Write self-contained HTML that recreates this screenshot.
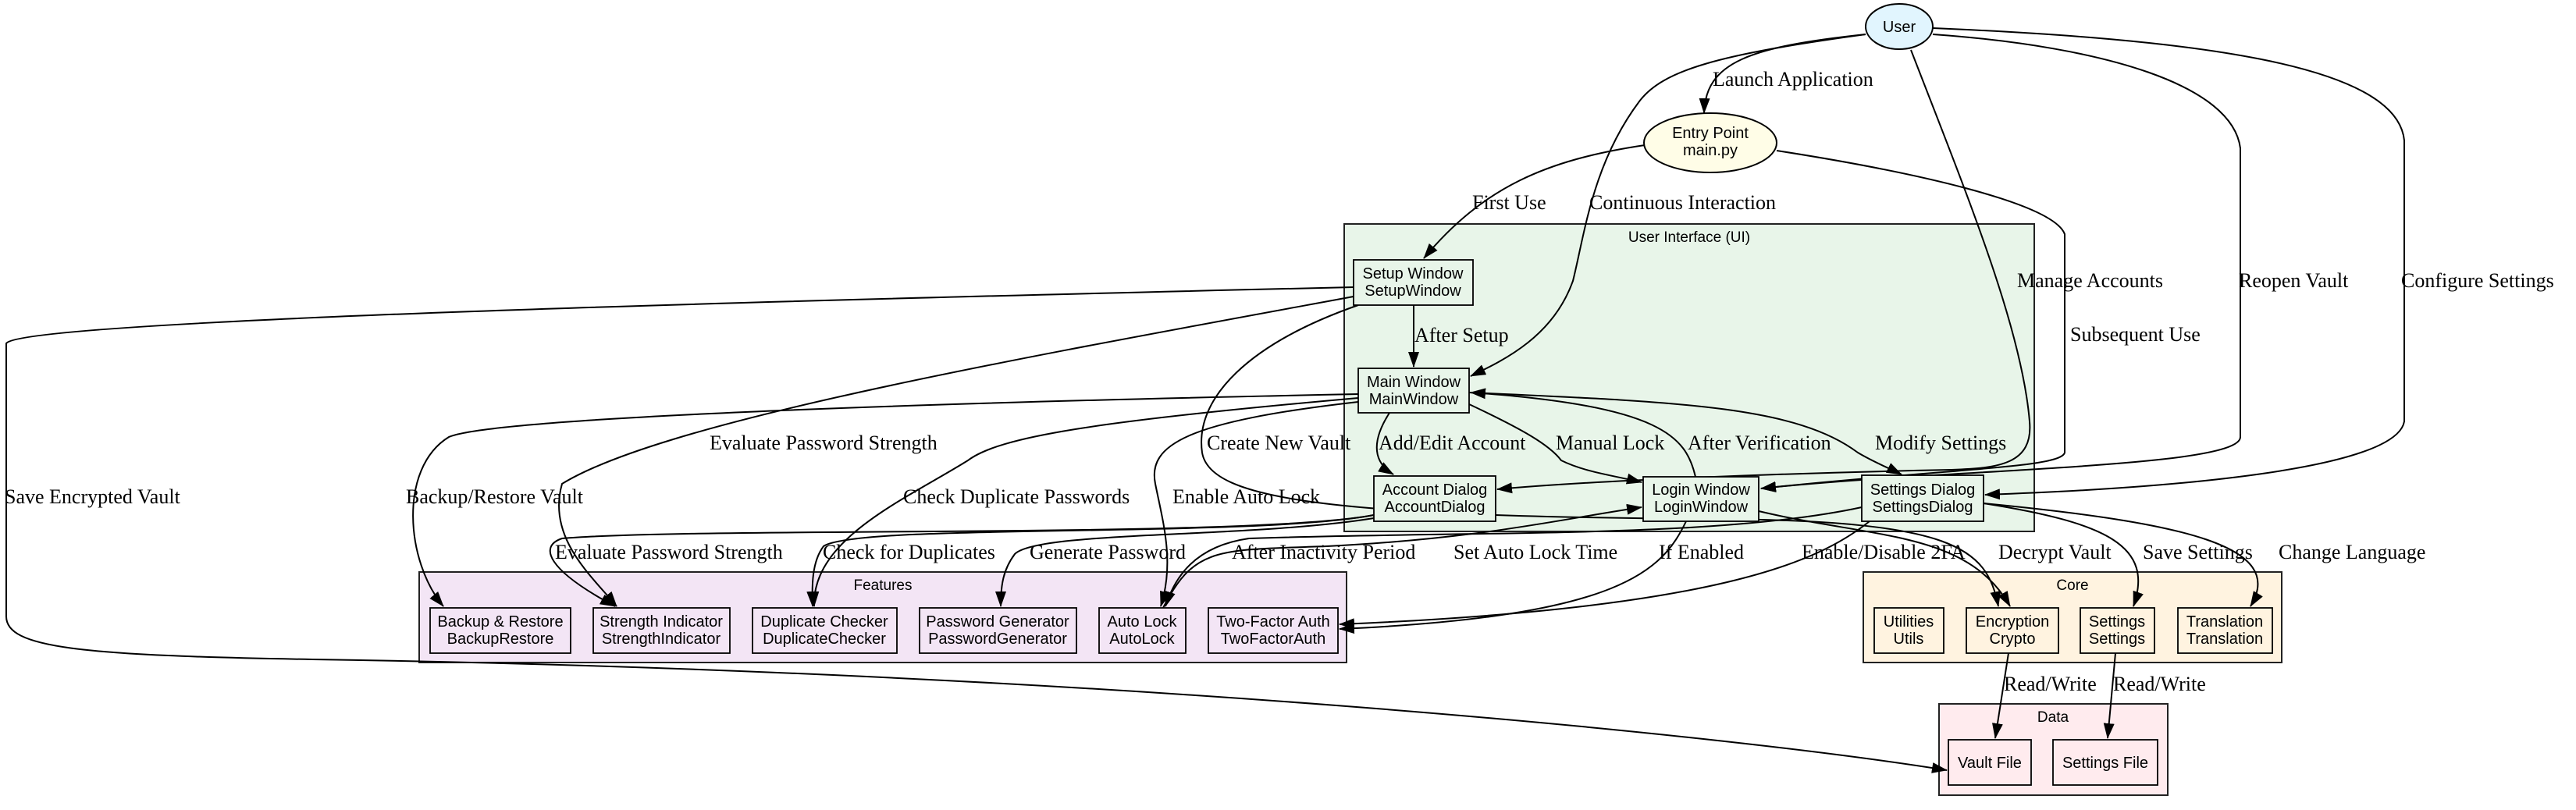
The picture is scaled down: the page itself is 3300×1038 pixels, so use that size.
<!DOCTYPE html>
<html><head><meta charset="utf-8"><style>
html,body{margin:0;padding:0;background:#fff;}
svg{display:block;}
.l{font-family:"Liberation Serif",serif;font-size:26px;fill:#000;}
.n{font-family:"Liberation Sans",sans-serif;font-size:20px;fill:#000;text-anchor:middle;}
.c{font-family:"Liberation Sans",sans-serif;font-size:19px;fill:#000;text-anchor:middle;}
.e{fill:none;stroke:#000;stroke-width:2;marker-end:url(#a);}
.b{stroke:#000;stroke-width:1.8;}
</style></head><body>
<svg width="3300" height="1038" viewBox="0 0 3300 1038" xmlns="http://www.w3.org/2000/svg">
<defs><marker id="a" markerWidth="20" markerHeight="14" refX="19" refY="7" orient="auto" markerUnits="userSpaceOnUse"><path d="M0,0 L20,7 L0,14 z" fill="#000"/></marker></defs>

<rect x="1722" y="287" width="884" height="394" fill="#e8f5e9" stroke="#222" stroke-width="2"/>
<text class="c" x="2164" y="310">User Interface (UI)</text>
<rect x="537" y="733" width="1188" height="116" fill="#f3e5f5" stroke="#222" stroke-width="2"/>
<text class="c" x="1131" y="756">Features</text>
<rect x="2387" y="733" width="536" height="116" fill="#fff3e0" stroke="#222" stroke-width="2"/>
<text class="c" x="2655" y="756">Core</text>
<rect x="2484" y="902" width="293" height="117" fill="#ffebee" stroke="#222" stroke-width="2"/>
<text class="c" x="2630" y="925">Data</text>

<path class="e" d="M2390,44 C2240,60 2185,80 2183,145"/>
<path class="e" d="M2390,44 C2200,70 2130,90 2100,130 C2040,210 2030,300 2015,360 C1990,430 1930,460 1884,482"/>
<path class="e" d="M2448,64 C2520,250 2590,420 2600,540 C2605,595 2560,600 2500,602 C2300,606 2050,615 1918,627"/>
<path class="e" d="M2476,44 C2700,60 2860,110 2870,190 L2870,560 C2870,600 2500,600 2256,626"/>
<path class="e" d="M2476,36 C2800,50 3070,80 3080,180 L3080,540 C3070,600 2800,625 2543,634"/>
<path class="e" d="M2107,186 C1980,205 1900,240 1824,331"/>
<path class="e" d="M2276,193 C2450,220 2630,260 2645,300 L2645,580 C2640,600 2500,600 2256,626"/>
<path class="e" d="M1811,391 L1811,470"/>
<path class="e" d="M1734,368 C1000,385 30,410 8,440 L8,790 C8,830 100,840 400,845 C1400,860 2200,940 2494,987"/>
<path class="e" d="M1734,380 C1300,460 850,540 720,620 C700,690 760,740 790,777"/>
<path class="e" d="M1740,391 C1600,440 1530,510 1540,580 C1550,640 1700,662 2200,665 C2500,668 2545,700 2560,777"/>
<path class="e" d="M1780,529 C1760,560 1755,590 1785,608"/>
<path class="e" d="M1882,518 C1950,550 1985,570 2000,590 C2030,605 2070,610 2103,618"/>
<path class="e" d="M2172,611 C2160,560 2130,520 1884,503"/>
<path class="e" d="M1882,503 C2150,515 2300,520 2380,580 C2400,592 2420,600 2436,608"/>
<path class="e" d="M1740,505 C1000,520 620,540 575,560 C510,600 520,720 568,777"/>
<path class="e" d="M1740,510 C1400,540 1280,560 1240,590 C1160,640 1040,690 1043,777"/>
<path class="e" d="M1740,515 C1520,540 1470,570 1480,620 C1490,670 1505,720 1487,777"/>
<path class="e" d="M1760,660 C1600,690 900,675 720,690 C690,700 700,730 788,777"/>
<path class="e" d="M1760,660 C1600,690 1100,670 1055,700 C1040,720 1040,750 1041,777"/>
<path class="e" d="M1760,664 C1600,690 1330,680 1300,710 C1285,730 1282,750 1282,777"/>
<path class="e" d="M1490,779 C1530,700 1560,705 1700,700 C1900,690 2000,665 2103,650"/>
<path class="e" d="M2385,650 C2200,690 1900,680 1600,690 C1530,700 1505,740 1493,777"/>
<path class="e" d="M2160,668 C2130,730 2080,790 1716,806"/>
<path class="e" d="M2395,668 C2330,720 2200,780 1716,800"/>
<path class="e" d="M2253,655 C2400,690 2520,680 2575,777"/>
<path class="e" d="M2541,645 C2700,670 2760,700 2733,777"/>
<path class="e" d="M2541,645 C2800,670 2930,700 2883,777"/>
<path class="e" d="M2573,837 L2556,946"/>
<path class="e" d="M2710,837 L2700,946"/>

<ellipse cx="2433" cy="34" rx="43" ry="29" fill="#e1f5fe" stroke="#000" stroke-width="2"/>
<text class="n" x="2433" y="41">User</text>
<ellipse cx="2191" cy="183" rx="85" ry="38" fill="#fffde7" stroke="#000" stroke-width="2"/>
<text class="n" x="2191" y="177">Entry Point</text><text class="n" x="2191" y="199">main.py</text>

<g fill="#e8f5e9" class="b">
<rect x="1734" y="333" width="153" height="58"/><rect x="1740" y="472" width="142" height="57"/>
<rect x="1760" y="610" width="156" height="58"/><rect x="2105" y="611" width="148" height="57"/>
<rect x="2385" y="609" width="156" height="59"/></g>
<text class="n" x="1810" y="357">Setup Window</text><text class="n" x="1810" y="379">SetupWindow</text>
<text class="n" x="1811" y="496">Main Window</text><text class="n" x="1811" y="518">MainWindow</text>
<text class="n" x="1838" y="634">Account Dialog</text><text class="n" x="1838" y="656">AccountDialog</text>
<text class="n" x="2179" y="634">Login Window</text><text class="n" x="2179" y="656">LoginWindow</text>
<text class="n" x="2463" y="634">Settings Dialog</text><text class="n" x="2463" y="656">SettingsDialog</text>

<g fill="#f3e5f5" class="b">
<rect x="551" y="779" width="180" height="58"/><rect x="760" y="779" width="175" height="58"/>
<rect x="964" y="779" width="185" height="58"/><rect x="1178" y="779" width="201" height="58"/>
<rect x="1408" y="779" width="111" height="58"/><rect x="1548" y="779" width="166" height="58"/></g>
<text class="n" x="641" y="803">Backup &amp; Restore</text><text class="n" x="641" y="825">BackupRestore</text>
<text class="n" x="847" y="803">Strength Indicator</text><text class="n" x="847" y="825">StrengthIndicator</text>
<text class="n" x="1056" y="803">Duplicate Checker</text><text class="n" x="1056" y="825">DuplicateChecker</text>
<text class="n" x="1278" y="803">Password Generator</text><text class="n" x="1278" y="825">PasswordGenerator</text>
<text class="n" x="1463" y="803">Auto Lock</text><text class="n" x="1463" y="825">AutoLock</text>
<text class="n" x="1631" y="803">Two-Factor Auth</text><text class="n" x="1631" y="825">TwoFactorAuth</text>

<g fill="#fff3e0" class="b">
<rect x="2401" y="779" width="89" height="58"/><rect x="2519" y="779" width="118" height="58"/>
<rect x="2665" y="779" width="95" height="58"/><rect x="2790" y="779" width="121" height="58"/></g>
<text class="n" x="2445" y="803">Utilities</text><text class="n" x="2445" y="825">Utils</text>
<text class="n" x="2578" y="803">Encryption</text><text class="n" x="2578" y="825">Crypto</text>
<text class="n" x="2712" y="803">Settings</text><text class="n" x="2712" y="825">Settings</text>
<text class="n" x="2850" y="803">Translation</text><text class="n" x="2850" y="825">Translation</text>

<g fill="#ffebee" class="b">
<rect x="2496" y="948" width="106" height="58"/><rect x="2630" y="948" width="134" height="58"/></g>
<text class="n" x="2549" y="984">Vault File</text>
<text class="n" x="2697" y="984">Settings File</text>

<g class="l">
<text x="2194" y="110">Launch Application</text>
<text x="1886" y="268">First Use</text>
<text x="2036" y="268">Continuous Interaction</text>
<text x="1812" y="438">After Setup</text>
<text x="2584" y="368">Manage Accounts</text>
<text x="2652" y="437">Subsequent Use</text>
<text x="2868" y="368">Reopen Vault</text>
<text x="3076" y="368">Configure Settings</text>
<text x="1546" y="576">Create New Vault</text>
<text x="1766" y="576">Add/Edit Account</text>
<text x="1993" y="576">Manual Lock</text>
<text x="2162" y="576">After Verification</text>
<text x="2402" y="576">Modify Settings</text>
<text x="909" y="576">Evaluate Password Strength</text>
<text x="6" y="645">Save Encrypted Vault</text>
<text x="520" y="645">Backup/Restore Vault</text>
<text x="1157" y="645">Check Duplicate Passwords</text>
<text x="1502" y="645">Enable Auto Lock</text>
<text x="711" y="716">Evaluate Password Strength</text>
<text x="1054" y="716">Check for Duplicates</text>
<text x="1319" y="716">Generate Password</text>
<text x="1578" y="716">After Inactivity Period</text>
<text x="1862" y="716">Set Auto Lock Time</text>
<text x="2125" y="716">If Enabled</text>
<text x="2308" y="716">Enable/Disable 2FA</text>
<text x="2560" y="716">Decrypt Vault</text>
<text x="2745" y="716">Save Settings</text>
<text x="2919" y="716">Change Language</text>
<text x="2567" y="885">Read/Write</text>
<text x="2707" y="885">Read/Write</text>
</g>
</svg>
</body></html>
